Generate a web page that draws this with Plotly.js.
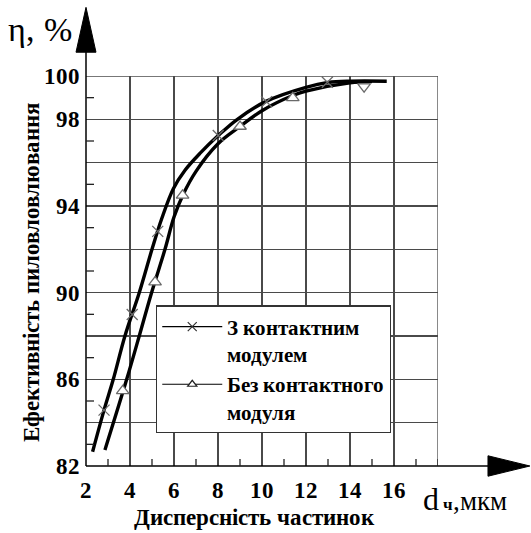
<!DOCTYPE html>
<html>
<head>
<meta charset="utf-8">
<script src="https://cdn.plot.ly/plotly-3.0.1.min.js"></script>
<style>
html,body{margin:0;padding:0;background:#fff;}
@font-face{font-family:"LSerif";src:local("Liberation Serif"),local("LiberationSerif");font-weight:400;font-style:normal;}
@font-face{font-family:"LSerif";src:local("Liberation Serif Bold"),local("LiberationSerif-Bold");font-weight:700;font-style:normal;}
</style>
</head>
<body>
<div id="chart" style="width:531px;height:533px;"></div>
<script>
// ---- data ----
const seriesNames = ["З контактним<br>модулем", "Без контактного<br>модуля"];
// curve 1: with contact module (line)
const x1Line = [2.3, 2.82, 3.24, 3.77, 4.42, 5.0, 5.44, 5.97, 6.5, 7.2, 8.01, 8.85, 10.18, 12.0, 13.0, 14.0, 15.67];
const y1Line = [82.66, 84.58, 86.0, 88.0, 90.0, 92.0, 93.41, 94.8, 95.65, 96.45, 97.25, 97.98, 98.83, 99.48, 99.7, 99.76, 99.76];
// curve 1 markers
const x1Mark = [2.82, 4.1, 5.26, 8.01, 10.21, 12.97];
const y1Mark = [84.58, 88.99, 92.83, 97.25, 98.81, 99.71];
// curve 2: without contact module (line)
const x2Line = [2.86, 3.85, 4.42, 4.98, 5.59, 6.0, 6.4, 7.0, 8.0, 9.0, 10.0, 11.4, 12.0, 14.0, 15.0];
const y2Line = [82.74, 86.0, 88.0, 90.0, 92.0, 93.49, 94.5, 95.6, 96.87, 97.67, 98.4, 99.1, 99.3, 99.68, 99.74];
// curve 2 markers
const x2Mark = [3.67, 5.14, 6.39, 9.0, 11.4, 14.64];
const y2Mark = [85.47, 90.49, 94.49, 97.67, 98.99, 99.51];
const m2Symbols = ["triangle-up", "triangle-up", "triangle-up", "triangle-up", "triangle-up", "triangle-down"];
// axes
const xTickVals = [2, 4, 6, 8, 10, 12, 14, 16, 18];
const xTickText = ["2", "4", "6", "8", "10", "12", "14", "16", ""];
const yTickVals = [82, 84, 86, 88, 90, 92, 94, 96, 98, 100];
const yTickText = ["82", "", "86", "", "90", "", "94", "", "98", "100"];
const xMinor = [3, 5, 7, 9, 11, 13, 15, 17, 18];
const yMinor = [83, 85, 87, 89, 91, 93, 95, 97, 99];
const xTitle = "Дисперсність частинок";
const yTitle = "Ефективність пиловловлювання";
const yUnit = "η, %";

// ---- styling ----
const serif = "LSerif, 'Liberation Serif', 'Times New Roman', serif";
const gridCol = "#4a4a4a";
const markCol = "#6a6a6a";
const B = (t) => t === "" ? "" : "<b>" + t + "</b>";

function draw() {
  const traces = [
    {x: x1Line, y: y1Line, mode: "lines", line: {color: "black", width: 3.4, shape: "spline", smoothing: 1}, showlegend: false, hoverinfo: "skip"},
    {x: x2Line, y: y2Line, mode: "lines", line: {color: "black", width: 3.4, shape: "spline", smoothing: 1}, showlegend: false, hoverinfo: "skip"},
    {x: x1Mark, y: y1Mark, mode: "markers", marker: {symbol: "x-thin", size: 11, line: {color: markCol, width: 1.3}}, showlegend: false},
    {x: x2Mark, y: y2Mark, mode: "markers", marker: {symbol: m2Symbols, size: 11, color: "white", line: {color: markCol, width: 1.3}}, showlegend: false},
    {x: [null], y: [null], name: seriesNames[0].split("<br>").map(B).join("<br>"), mode: "lines+markers", line: {color: "black", width: 1.2},
     marker: {symbol: "x-thin", size: 9, line: {color: "#333", width: 1.2}}},
    {x: [null], y: [null], name: seriesNames[1].split("<br>").map(B).join("<br>"), mode: "lines+markers", line: {color: "black", width: 1.2},
     marker: {symbol: "triangle-up", size: 8, color: "white", line: {color: "#222", width: 1.2}}}
  ];

  const shapes = [];
  shapes.push({type: "line", xref: "x", yref: "y", x0: 2, x1: 18, y0: 100, y1: 100, line: {color: gridCol, width: 1.3}});
  shapes.push({type: "line", xref: "x", yref: "y", x0: 18, x1: 18, y0: 82, y1: 100, line: {color: gridCol, width: 1.3}});
  shapes.push({type: "line", xref: "paper", yref: "paper", x0: 0, x1: 0, y0: 0, y1: 1.08, line: {color: "black", width: 1.5}});
  shapes.push({type: "line", xref: "paper", yref: "paper", x0: 0, x1: 1.16, y0: 0, y1: 0, line: {color: "black", width: 1.5}});
  shapes.push({type: "path", xref: "paper", yref: "paper", path: "M -0.0284 1.061 L 0 1.176 L 0.0284 1.061 Z", fillcolor: "black", line: {color: "black", width: 1}});
  shapes.push({type: "path", xref: "paper", yref: "paper", path: "M 1.142 -0.0262 L 1.261 0 L 1.142 0.0262 Z", fillcolor: "black", line: {color: "black", width: 1}});
  xMinor.forEach(v => shapes.push({type: "line", xref: "x", yref: "y", ysizemode: "pixel", yanchor: 82, x0: v, x1: v, y0: -7, y1: 7, line: {color: "#222", width: 1.3}}));
  yMinor.forEach(v => shapes.push({type: "line", xref: "x", yref: "y", xsizemode: "pixel", xanchor: 2, y0: v, y1: v, x0: -9, x1: 8, line: {color: "#222", width: 1.3}}));

  const annotations = [
    {xref: "paper", yref: "paper", x: 0.48, y: -0.133, xanchor: "center", yanchor: "middle", showarrow: false,
     text: B(xTitle), font: {family: serif, size: 23, color: "black"}},
    {xref: "paper", yref: "paper", x: -0.157, y: 0.497, xanchor: "center", yanchor: "middle", showarrow: false, textangle: -90,
     text: B(yTitle), font: {family: serif, size: 23, color: "black"}},
    {xref: "paper", yref: "paper", x: -0.228, y: 1.118, xanchor: "left", yanchor: "middle", showarrow: false,
     text: yUnit, font: {family: serif, size: 34, color: "black"}},
    {xref: "paper", yref: "paper", x: 0.952, y: -0.085, xanchor: "left", yanchor: "middle", showarrow: false,
     text: 'd<b style="font-size:17px"> ч</b><span style="font-size:27px">,мкм</span>', font: {family: serif, size: 32, color: "black"}}
  ];

  const layout = {
    width: 531, height: 533,
    margin: {l: 86, r: 93, t: 76, b: 67, pad: 0},
    paper_bgcolor: "white", plot_bgcolor: "white",
    font: {family: serif, color: "black"},
    showlegend: true,
    xaxis: {range: [2, 18], tickvals: xTickVals, ticktext: xTickText.map(B), ticks: "", showline: false, zeroline: false,
            showgrid: true, gridcolor: gridCol, gridwidth: 1.3, ticklabelstandoff: 8,
            tickfont: {family: serif, size: 23, color: "black"}, fixedrange: true},
    yaxis: {range: [82, 100], tickvals: yTickVals, ticktext: yTickText.map(B), ticks: "", showline: false, zeroline: false,
            showgrid: true, gridcolor: gridCol, gridwidth: 1.3, ticklabelstandoff: 5,
            tickfont: {family: serif, size: 23, color: "black"}, fixedrange: true},
    legend: {x: 0.199, y: 0.412, xanchor: "left", yanchor: "top", bgcolor: "white", bordercolor: "#333", borderwidth: 1.2,
             font: {family: serif, size: 21, color: "black"}, itemwidth: 60, valign: "top", tracegroupgap: 0},
    shapes: shapes,
    annotations: annotations
  };

  Plotly.newPlot("chart", traces, layout, {staticPlot: true, displayModeBar: false});
}

const loads = [document.fonts.load('400 20px LSerif', 'dη%'), document.fonts.load('700 20px LSerif', 'Дд100')];
Promise.all(loads).then(draw, draw);
</script>
</body>
</html>
